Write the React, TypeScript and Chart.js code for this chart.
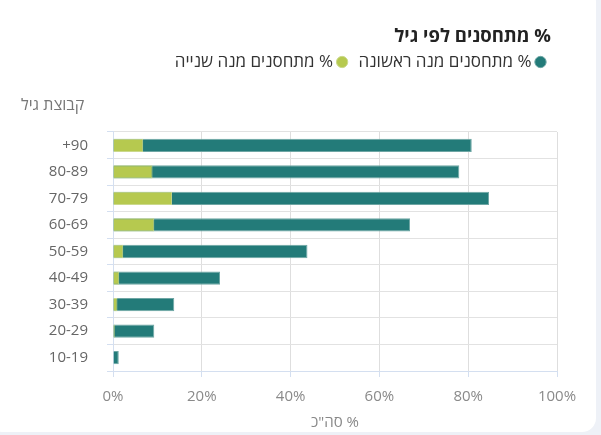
import React, { useEffect, useRef } from 'react';
import { Chart, registerables } from 'chart.js';

Chart.register(...registerables);

const ageGroups = ['+90', '80-89', '70-79', '60-69', '50-59', '40-49', '30-39', '20-29', '10-19'];
const firstDose = [80.8, 78.0, 84.7, 66.9, 43.8, 24.1, 13.8, 9.3, 1.3];
const secondDose = [6.8, 8.9, 13.3, 9.3, 2.3, 1.4, 1.0, 0.4, 0];
const xTicks = [0, 20, 40, 60, 80, 100];

const RLI = '\u2067';
const LRI = '\u2066';
const PDI = '\u2069';
const titleText = RLI + '% מתחסנים לפי גיל' + PDI;
const firstLabel = '% מתחסנים מנה ראשונה';
const secondLabel = '% מתחסנים מנה שנייה';
const yTitleText = 'קבוצת גיל';
const xTitleText = RLI + '% סה"כ' + PDI;

const FONT = '"Open Sans", "Noto Sans", "DejaVu Sans", sans-serif';

const titleShift = {
  id: 'titleShift',
  afterLayout(chart: any) {
    const t = chart.titleBlock;
    if (t) {
      t.right = t.right - 6;
    }
  },
};

export default function App() {
  const ref = useRef<HTMLCanvasElement | null>(null);

  useEffect(() => {
    document.body.style.margin = '0';
    document.body.style.background = '#eef1f7';
    const canvas = ref.current;
    if (!canvas) return;
    Chart.defaults.font.family = FONT;
    const chart = new Chart(canvas, {
      type: 'bar',
      data: {
        labels: ageGroups,
        datasets: [
          {
            label: firstLabel,
            data: firstDose,
            backgroundColor: '#237b79',
            borderColor: '#6ea6a4',
            borderWidth: 1,
            order: 1,
            barPercentage: 0.5,
            categoryPercentage: 1,
          },
          {
            label: secondLabel,
            data: secondDose,
            backgroundColor: '#b6c94f',
            borderColor: '#cbd98c',
            borderWidth: 1,
            order: 0,
            barPercentage: 0.5,
            categoryPercentage: 1,
          },
        ],
      },
      options: {
        indexAxis: 'y',
        animation: false,
        responsive: false,
        maintainAspectRatio: false,
        layout: { padding: { left: 21, right: 39, top: 0, bottom: 0 } },
        plugins: {
          title: {
            display: true,
            text: titleText,
            align: 'end',
            color: '#222',
            font: { family: FONT, size: 18.5, weight: 'bold', lineHeight: 0.054 },
            padding: { top: 36.5, bottom: 0 },
          },
          subtitle: {
            display: true,
            text: yTitleText,
            align: 'start',
            color: '#777',
            font: { family: FONT, size: 16, lineHeight: 1 },
            padding: { top: 16.5, bottom: 19 },
            weight: 500,
          } as any,
          legend: {
            display: true,
            position: 'top',
            align: 'start',
            rtl: true,
            textDirection: 'rtl',
            labels: {
              usePointStyle: true,
              pointStyle: 'circle',
              boxWidth: 1,
              boxHeight: 8,
              padding: 16,
              color: '#333',
              font: { family: FONT, size: 17 },
              sort: (a: any, b: any) => a.datasetIndex - b.datasetIndex,
            },
          },
          tooltip: { enabled: false },
        },
        scales: {
          x: {
            min: 0,
            max: 100,
            stacked: false,
            afterBuildTicks: (s: any) => {
              s.ticks = xTicks.map((v) => ({ value: v }));
            },
            ticks: {
              callback: (v: any) => LRI + v + '%' + PDI,
              color: '#8a8a8a',
              font: { family: FONT, size: 15, lineHeight: 1.2 },
              padding: 11,
            },
            grid: { color: '#dedede', tickColor: '#d4dff0', tickLength: 6 },
            border: { color: '#d4dff0', width: 1 },
            title: {
              display: true,
              text: xTitleText,
              color: '#888',
              font: { family: FONT, size: 15, lineHeight: 1.2 },
              padding: { top: -3, bottom: 0 },
            },
          },
          y: {
            stacked: true,
            afterFit: (s: any) => {
              s.width = 92;
            },
            ticks: {
              callback: (_v: any, i: number) => LRI + ageGroups[i] + PDI,
              color: '#666',
              font: { family: FONT, size: 15 },
              padding: 19,
            },
            grid: { color: '#e2e2e2', tickColor: '#d4dff0', tickLength: 6, offset: true },
            border: { color: '#d4dff0', width: 1 },
          },
        },
      } as any,
      plugins: [titleShift],
    });
    return () => chart.destroy();
  }, []);

  return (
    <div style={{ position: 'relative', width: 601, height: 435, background: '#eef1f7', overflow: 'hidden' }}>
      <div
        style={{
          position: 'absolute',
          left: -12,
          top: -12,
          width: 608,
          height: 444,
          background: '#ffffff',
          borderRadius: 14,
        }}
      />
      <canvas
        ref={ref}
        width={596}
        height={432}
        style={{ position: 'absolute', left: 0, top: 0, width: 596, height: 432 }}
      />
    </div>
  );
}
